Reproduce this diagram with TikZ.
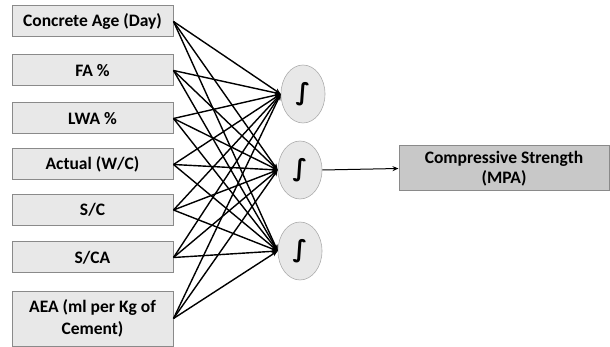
\documentclass[tikz,border=0pt]{standalone}
\usepackage{fontspec}
\setmainfont{Carlito}
\newfontfamily\symfont{DejaVu Sans}
\usetikzlibrary{shapes.geometric,arrows.meta}
\definecolor{inbox}{HTML}{E8E8E8}
\definecolor{outbox}{HTML}{C8C8C8}
\definecolor{edge}{HTML}{8A8A8A}
\tikzset{
  inp/.style={draw=edge, line width=1pt, fill=inbox, minimum width=161pt, minimum height=31pt, inner sep=1pt, align=center, font=\bfseries\fontsize{17.5}{22.5}\selectfont},
  hid/.style={ellipse, draw=edge!70, line width=0.6pt, fill=inbox, minimum width=44pt, minimum height=58pt, inner sep=0pt, font=\symfont\bfseries\fontsize{24}{24}\selectfont},
  outb/.style={draw=edge, line width=1pt, fill=outbox, minimum width=210pt, minimum height=45pt, inner sep=1pt, align=center, font=\bfseries\fontsize{17.5}{20}\selectfont},
  conn/.style={line width=1.4pt, -{Stealth[length=6pt,width=5pt]}}
}
\begin{document}
\begin{tikzpicture}[x=1pt,y=-1pt]
\useasboundingbox (0,0) rectangle (610,347);
\node[inp] (i1) at (92.5,21.5) {Concrete Age (Day)};
\node[inp] (i2) at (92.5,70.5) {FA \%};
\node[inp] (i3) at (92.5,118.5) {LWA \%};
\node[inp] (i4) at (92.5,164.5) {Actual (W/C)};
\node[inp] (i5) at (92.5,210) {S/C};
\node[inp] (i6) at (92.5,257.5) {S/CA};
\node[inp, minimum height=55pt] (i7) at (92.5,318.5) {AEA (ml per Kg of\\Cement)};
\node[hid] (h1) at (303,94) {∫};
\node[hid] (h2) at (300,170) {∫};
\node[hid] (h3) at (300,251) {∫};
\node[outb] (o) at (504,168.5) {Compressive Strength\\(MPA)};
\foreach \i in {1,...,7}{
  \foreach \h in {1,2,3}{
    \draw[conn] (i\i.east) -- (h\h.west);
  }
}
\draw[line width=1pt, -{Stealth[length=6pt,width=5pt]}] (h2.east) -- (o.west);
\end{tikzpicture}
\end{document}
